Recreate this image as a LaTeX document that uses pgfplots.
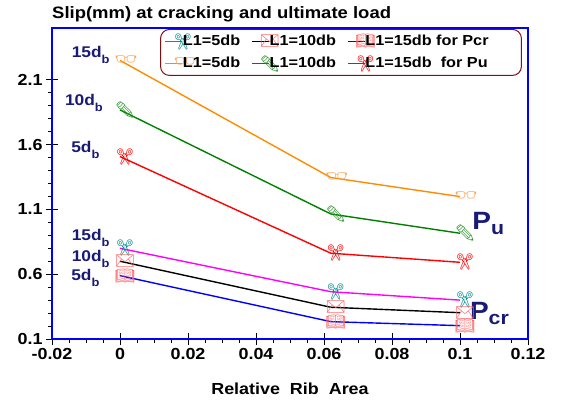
\documentclass[border=0pt]{standalone}
\usepackage{pgfplots}
\pgfplotsset{compat=1.18}
\usepackage{fontspec}
\setmainfont{Liberation Sans}[FakeStretch=1.12]
\newfontfamily\emo{Noto Emoji}
\definecolor{navy}{RGB}{25,25,120}
\definecolor{maroon}{RGB}{128,16,16}
\definecolor{lred}{RGB}{255,100,100}
\definecolor{lorange}{RGB}{255,165,90}
\definecolor{lgreen}{RGB}{50,150,50}
\definecolor{pcol}{RGB}{255,0,255}
\definecolor{ocol}{RGB}{255,140,0}
\definecolor{gcol}{RGB}{0,128,0}
\definecolor{tealc}{RGB}{0,140,140}
\newcommand\fs[1]{\fontsize{#1}{#1}\selectfont}
\newcommand\db[1]{#1d\raisebox{-5.5pt}{\fs{11.5}b}}
\begin{document}
\begin{tikzpicture}
\useasboundingbox (-52pt,-63pt) rectangle (509pt,339pt);
\begin{axis}[
 at={(0,0)}, anchor=south west, scale only axis, width=476pt, height=311pt,
 xmin=-0.02, xmax=0.12, ymin=0.1, ymax=2.5,
 xtick={-0.02,0,0.02,0.04,0.06,0.08,0.1,0.12},
 ytick={0.1,0.6,1.1,1.6,2.1},
 minor x tick num=3, minor y tick num=4,
 xtick pos=bottom, ytick pos=left,
 tick align=center, major tick length=12pt, minor tick length=4pt,
 minor x tick style={yshift=-2pt}, minor y tick style={xshift=-2pt},
 tick style={black, line width=0.8pt},
 axis line style={blue, line width=1.6pt},
 scaled x ticks=false, scaled y ticks=false,
 /pgf/number format/assume math mode=true,
 /pgf/number format/fixed,
 tick label style={font=\fs{16}\bfseries},
 xlabel={Relative\ \ Rib\ \ Area},
 xlabel style={at={(rel axis cs:0.5,0)}, anchor=base, yshift=-55pt, font=\fs{16}\bfseries},
 legend columns=3,
 legend style={at={(0.227,0.997)}, anchor=north west, draw=maroon, line width=1pt,
   rounded corners=9pt, fill=white, font=\fs{14.5}\bfseries, inner xsep=4pt, inner ysep=4pt,
   row sep=6pt, nodes={inner xsep=0pt},
   /tikz/every odd column/.append style={column sep=0pt},
   /tikz/every even column/.append style={column sep=11pt}},
 legend cell align=left,
 legend image code/.code={\draw[#1, mark=none, sharp corners] (0pt,0pt) -- (17pt,0pt);
   \begin{scope}[overlay]\draw[#1, sharp corners] plot coordinates {(2pt,0pt)};\end{scope}},
 mark=text, text mark as node=true,
]
\addplot[pcol, line width=1.4pt, mark=text, text mark={\emo\fs{16}\color{tealc}✂}, text mark style={xshift=5pt, inner sep=0pt}]
 coordinates {(0,0.80) (0.062,0.465) (0.1,0.40)};
\addlegendentry{L1=5db}
\addplot[black, line width=1.4pt, mark=text, text mark={\emo\fs{16}\color{lred}✉}, text mark style={xshift=5pt, inner sep=0pt}]
 coordinates {(0,0.70) (0.062,0.345) (0.1,0.303)};
\addlegendentry{L1=10db}
\addplot[blue, line width=1.4pt, mark=text, text mark={\emo\fs{16}\color{lred}📖}, text mark style={xshift=5pt, inner sep=0pt}]
 coordinates {(0,0.589) (0.062,0.234) (0.1,0.203)};
\addlegendentry{\makebox[152pt][l]{L1=15db for Pcr}}
\addplot[ocol, line width=1.4pt, mark=text, text mark={\emo\fs{18}\color{lorange}👓}, text mark style={xshift=6pt, inner sep=0pt}]
 coordinates {(0,2.25) (0.062,1.346) (0.1,1.199)};
\addlegendentry{L1=5db}
\addplot[gcol, line width=1.4pt, mark=text, text mark={\emo\fs{16}\color{lgreen}✏}, text mark style={xshift=5pt, inner sep=0pt}]
 coordinates {(0,1.868) (0.062,1.065) (0.1,0.916)};
\addlegendentry{L1=10db}
\addplot[red, line width=1.4pt, mark=text, text mark={\emo\fs{16}\color{red}✂}, text mark style={xshift=5pt, inner sep=0pt}]
 coordinates {(0,1.508) (0.062,0.762) (0.1,0.692)};
\addlegendentry{L1=15db\ \ for Pu}
\begin{scope}[every node/.style={navy, inner sep=0pt, font=\fs{15.5}\bfseries}]
\node[anchor=base east] at (axis cs:-0.003,2.27) {\db{15}};
\node[anchor=base east] at (axis cs:-0.005,1.90) {\db{10}};
\node[anchor=base east] at (axis cs:-0.006,1.536) {\db{5}};
\node[anchor=base east] at (axis cs:-0.003,0.859) {\db{15}};
\node[anchor=base east] at (axis cs:-0.003,0.695) {\db{10}};
\node[anchor=base east] at (axis cs:-0.006,0.548) {\db{5}};
\node[anchor=base west] at (axis cs:0.1036,0.942) {\fs{25}P\raisebox{-5pt}{\fs{19}u}};
\node[anchor=base west] at (axis cs:0.1029,0.247) {\fs{25}P\raisebox{-5pt}{\fs{19}cr}};
\end{scope}
\end{axis}
\node[anchor=base west, inner sep=0pt, font=\fs{16.5}\bfseries] at (0pt,320pt) {Slip(mm) at cracking and ultimate load};
\end{tikzpicture}
\end{document}
